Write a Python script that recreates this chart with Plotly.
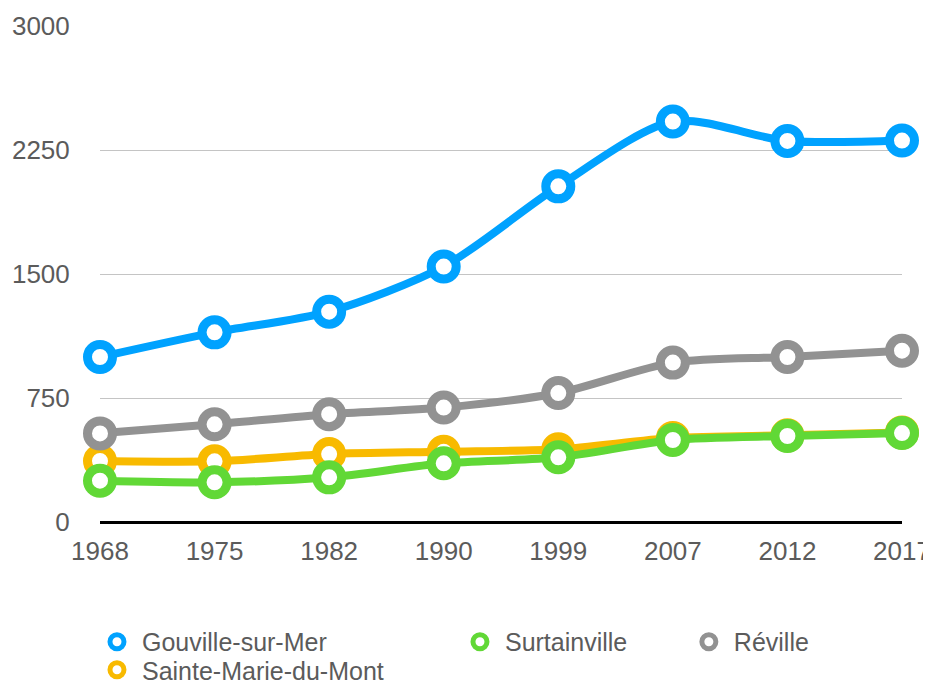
import plotly.graph_objects as go

years = ["1968", "1975", "1982", "1990", "1999", "2007", "2012", "2017"]
gouville = [998, 1147, 1272, 1545, 2030, 2422, 2305, 2307]
surtainville = [250, 240, 270, 355, 391, 496, 520, 538]
reville = [536, 591, 652, 692, 780, 964, 998, 1036]
sainte_marie = [369, 367, 411, 425, 440, 508, 524, 542]
y_ticks = [0, 750, 1500, 2250, 3000]

series = [
    # name, values, color, legend id; draw order is list order
    ("Sainte-Marie-du-Mont", sainte_marie, "#F8BA00", "legend4"),
    ("Réville", reville, "#929292", "legend3"),
    ("Surtainville", surtainville, "#61D836", "legend2"),
    ("Gouville-sur-Mer", gouville, "#00A2FF", "legend"),
]

fig = go.Figure()
for name, vals, color, leg in series:
    fig.add_trace(go.Scatter(
        x=years, y=vals, name=name, mode="lines+markers",
        line=dict(color=color, width=8, shape="spline", smoothing=0.8),
        marker=dict(size=25, color="white", line=dict(color=color, width=9)),
        cliponaxis=False, showlegend=False,
    ))
# legend entries: ring icon like the reference's compact symbol
for name, vals, color, leg in series:
    fig.add_trace(go.Scatter(
        x=[None], y=[None], name=name, mode="markers",
        marker=dict(size=14, color="white", line=dict(color=color, width=5)),
        legend=leg, showlegend=True, hoverinfo="skip",
    ))

font_family = "Liberation Sans, Arial, Helvetica, sans-serif"
txt_color = "#5b5b5b"

def leg(x, y):
    return dict(x=x, y=y, xanchor="left", yanchor="middle", orientation="v",
                font=dict(family=font_family, size=25, color=txt_color),
                bgcolor="rgba(0,0,0,0)", itemwidth=40)

# the page body adds an 8px margin, so the figure is 8px smaller
fig.update_layout(
    width=923, height=676,
    margin=dict(l=92, r=29, t=18, b=162, autoexpand=False),
    paper_bgcolor="white", plot_bgcolor="white",
    font=dict(family=font_family, size=26, color=txt_color),
    showlegend=True,
    legend=leg(-0.01, -0.2419),
    legend2=leg(0.4426, -0.2419),
    legend3=leg(0.728, -0.2419),
    legend4=leg(-0.01, -0.2984),
    xaxis=dict(type="category", range=[0, 7], showgrid=False, showline=False,
               zeroline=False, ticks="outside", ticklen=6, automargin=False,
               tickcolor="rgba(0,0,0,0)", ticklabeloverflow="allow",
               tickfont=dict(family=font_family, size=26, color=txt_color)),
    yaxis=dict(range=[0, 3000], tickvals=y_ticks,
               ticktext=[str(v) for v in y_ticks], automargin=False,
               showgrid=True, gridcolor="#c4c4c4", gridwidth=1,
               zeroline=True, zerolinecolor="black", zerolinewidth=2.5,
               showline=False, ticks="outside", ticklen=24,
               tickcolor="rgba(0,0,0,0)",
               tickfont=dict(family=font_family, size=26, color=txt_color)),
)

fig.write_html("out.html")
